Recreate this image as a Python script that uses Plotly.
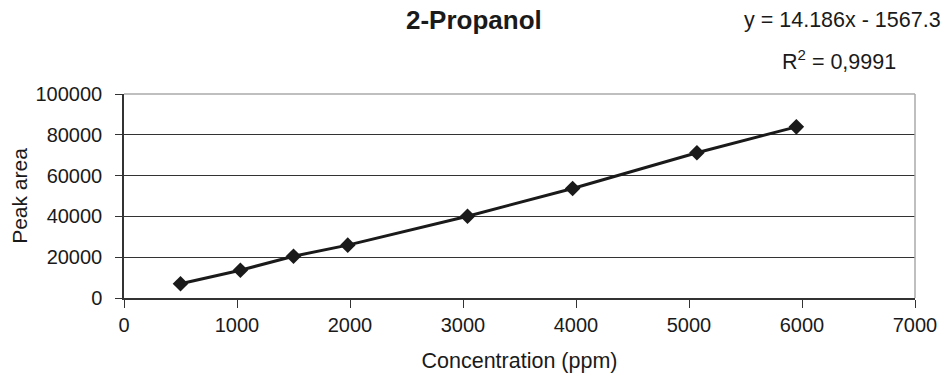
import plotly.graph_objects as go

# Calibration data for 2-Propanol
concentration_ppm = [500, 1030, 1500, 1980, 3040, 3970, 5070, 5950]
peak_area = [7000, 13600, 20500, 25900, 40100, 53700, 71200, 83900]

x_ticks = [0, 1000, 2000, 3000, 4000, 5000, 6000, 7000]
y_ticks = [0, 20000, 40000, 60000, 80000, 100000]

font_family = "Liberation Sans, Arial, sans-serif"
ink = "#1a1a1a"

# plot-area geometry in pixels, used to place the header texts
L, R, T, B = 124, 915, 94, 298
W, H = R - L, B - T


def px_x(px):
    return (px - L) / W


def px_y(py):
    return (B - py) / H


fig = go.Figure()
fig.add_trace(go.Scatter(
    x=concentration_ppm,
    y=peak_area,
    mode="lines+markers",
    line=dict(color=ink, width=3),
    marker=dict(symbol="diamond", size=12, color=ink),
    showlegend=False,
))

fig.update_layout(
    width=943, height=374,
    margin=dict(l=L, r=943 - R, t=T, b=374 - B),
    paper_bgcolor="white",
    plot_bgcolor="white",
    font=dict(family=font_family, size=21, color=ink),
    xaxis=dict(
        range=[0, 7000], tickvals=x_ticks, tickformat="d", automargin=False,
        ticks="outside", ticklen=8, tickcolor="#333",
        showgrid=False, zeroline=False,
        showline=True, linecolor="#333", linewidth=1.5,
        title=dict(text="Concentration (ppm)", font=dict(size=21.5), standoff=18),
        tickfont=dict(size=20),
    ),
    yaxis=dict(
        range=[0, 100000], tickvals=y_ticks, tickformat="d", automargin=False,
        ticks="outside", ticklen=7, tickcolor="#333", ticklabelstandoff=9,
        showgrid=True, gridcolor="#333", gridwidth=1,
        zeroline=False, showline=True, linecolor="#333", linewidth=1.5,
        title=dict(text="Peak area", font=dict(size=21), standoff=2),
        tickfont=dict(size=20),
    ),
    shapes=[
        # light frame on the top and right edges of the plot area
        dict(type="line", xref="paper", yref="paper", x0=0, x1=1, y0=1, y1=1,
             line=dict(color="#aaaaaa", width=1.5)),
        dict(type="line", xref="paper", yref="paper", x0=1, x1=1, y0=0, y1=1,
             line=dict(color="#aaaaaa", width=1.5)),
    ],
    annotations=[
        dict(text="<b>2-Propanol</b>", xref="paper", yref="paper",
             x=px_x(474), y=px_y(20), xanchor="center", yanchor="middle",
             showarrow=False, font=dict(size=26)),
        dict(text="y = 14.186x - 1567.3", xref="paper", yref="paper",
             x=px_x(842), y=px_y(20), xanchor="center", yanchor="middle",
             showarrow=False, font=dict(size=21.5)),
        dict(text="R<sup>2</sup> = 0,9991", xref="paper", yref="paper",
             x=px_x(839), y=px_y(60), xanchor="center", yanchor="middle",
             showarrow=False, font=dict(size=21.5)),
    ],
)

fig.write_html("out.html")
